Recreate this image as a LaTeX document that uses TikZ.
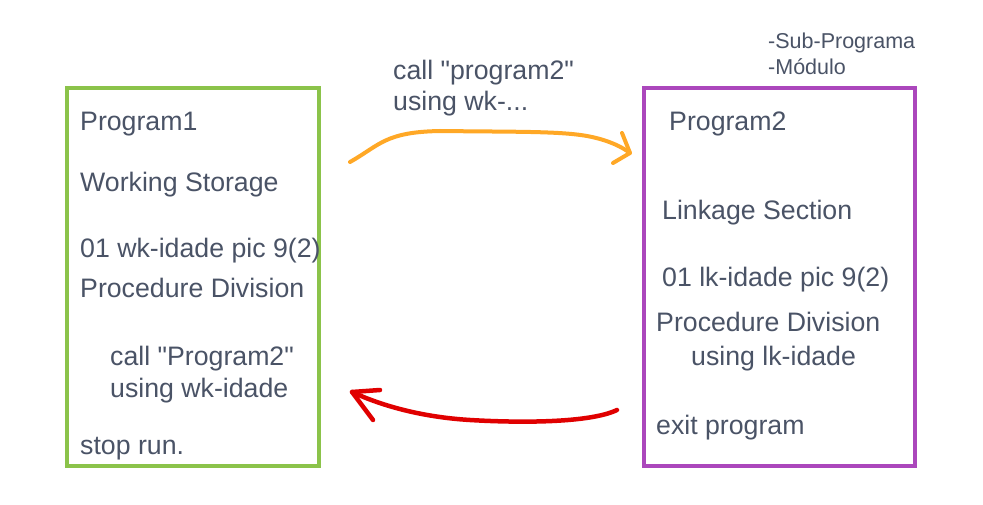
\documentclass[tikz,border=0pt]{standalone}
\usepackage{fontspec}
\setmainfont{Liberation Sans}
\definecolor{txt}{HTML}{4A5366}
\definecolor{grn}{HTML}{8BC34A}
\definecolor{prp}{HTML}{AB47BC}
\definecolor{org}{HTML}{FFA826}
\definecolor{rd}{HTML}{E00000}
\begin{document}
\begin{tikzpicture}[x=1pt,y=-1pt,
  lbl/.style={anchor=base west,inner sep=0pt,text=txt,font=\fontsize{26.7}{32}\selectfont},
  small/.style={anchor=base west,inner sep=0pt,text=txt,font=\fontsize{21.5}{26}\selectfont},
  box/.style={line width=3.5pt},
  sketch/.style={line width=4pt,line cap=round,line join=round}]
\useasboundingbox (0,0) rectangle (983,505);
\fill[white] (0,0) rectangle (983,505);
% boxes
\draw[box,grn] (67,88) rectangle (319,466);
\draw[box,prp] (644,88) rectangle (915,466);
% left texts
\node[lbl] (p1) at (80,130.5) {Program1};
\node[lbl] (ws) at (80,191.5) {Working Storage};
\node[lbl] (wk) at (80,257.5) {01 wk-idade pic 9(2)};
\node[lbl] (pd1) at (80,297.5) {Procedure Division};
\node[lbl] (c1) at (110,365.5) {call \textquotedbl Program2\textquotedbl};
\node[lbl] (u1) at (110,397.5) {using wk-idade};
\node[lbl] (sr) at (80,454.5) {stop run.};
% right texts
\node[lbl] (p2) at (669,130.5) {Program2};
\node[lbl] (ls) at (662,219.5) {Linkage Section};
\node[lbl] (lk) at (662,286.5) {01 lk-idade pic 9(2)};
\node[lbl] (pd2) at (656,331.5) {Procedure Division};
\node[lbl] (u2) at (691,365.5) {using lk-idade};
\node[lbl] (ep) at (656,434.5) {exit program};
% top texts
\node[lbl] (cp) at (393,79.5) {call \textquotedbl program2\textquotedbl};
\node[lbl] (uw) at (393,110.5) {using wk-...};
\node[small] (sp) at (768,48.7) {-Sub-Programa};
\node[small] (md) at (768,74.7) {-Módulo};
% orange arrow
\coordinate (oa) at (350,162);
\coordinate (ob) at (630,153);
\coordinate (ob1) at (622,133);
\coordinate (ob2) at (613,163);
\draw[sketch,org] (oa) .. controls (380,145) and (385,132) .. (440,131)
  .. controls (520,132) and (565,131) .. (592,137) .. controls (610,141) and (622,147) .. (ob);
\draw[sketch,org] (ob1) -- (ob) -- (ob2);
% red arrow
\coordinate (ra) at (617,410);
\coordinate (rb) at (352,392);
\coordinate (rb1) at (380,390);
\coordinate (rb2) at (373,420);
\draw[sketch,rd,line width=4.5pt] (ra) .. controls (590,423) and (520,423) .. (470,420)
  .. controls (420,417) and (380,405) .. (rb);
\draw[sketch,rd,line width=4.5pt] (rb1) -- (rb) -- (rb2);
\end{tikzpicture}
\end{document}
